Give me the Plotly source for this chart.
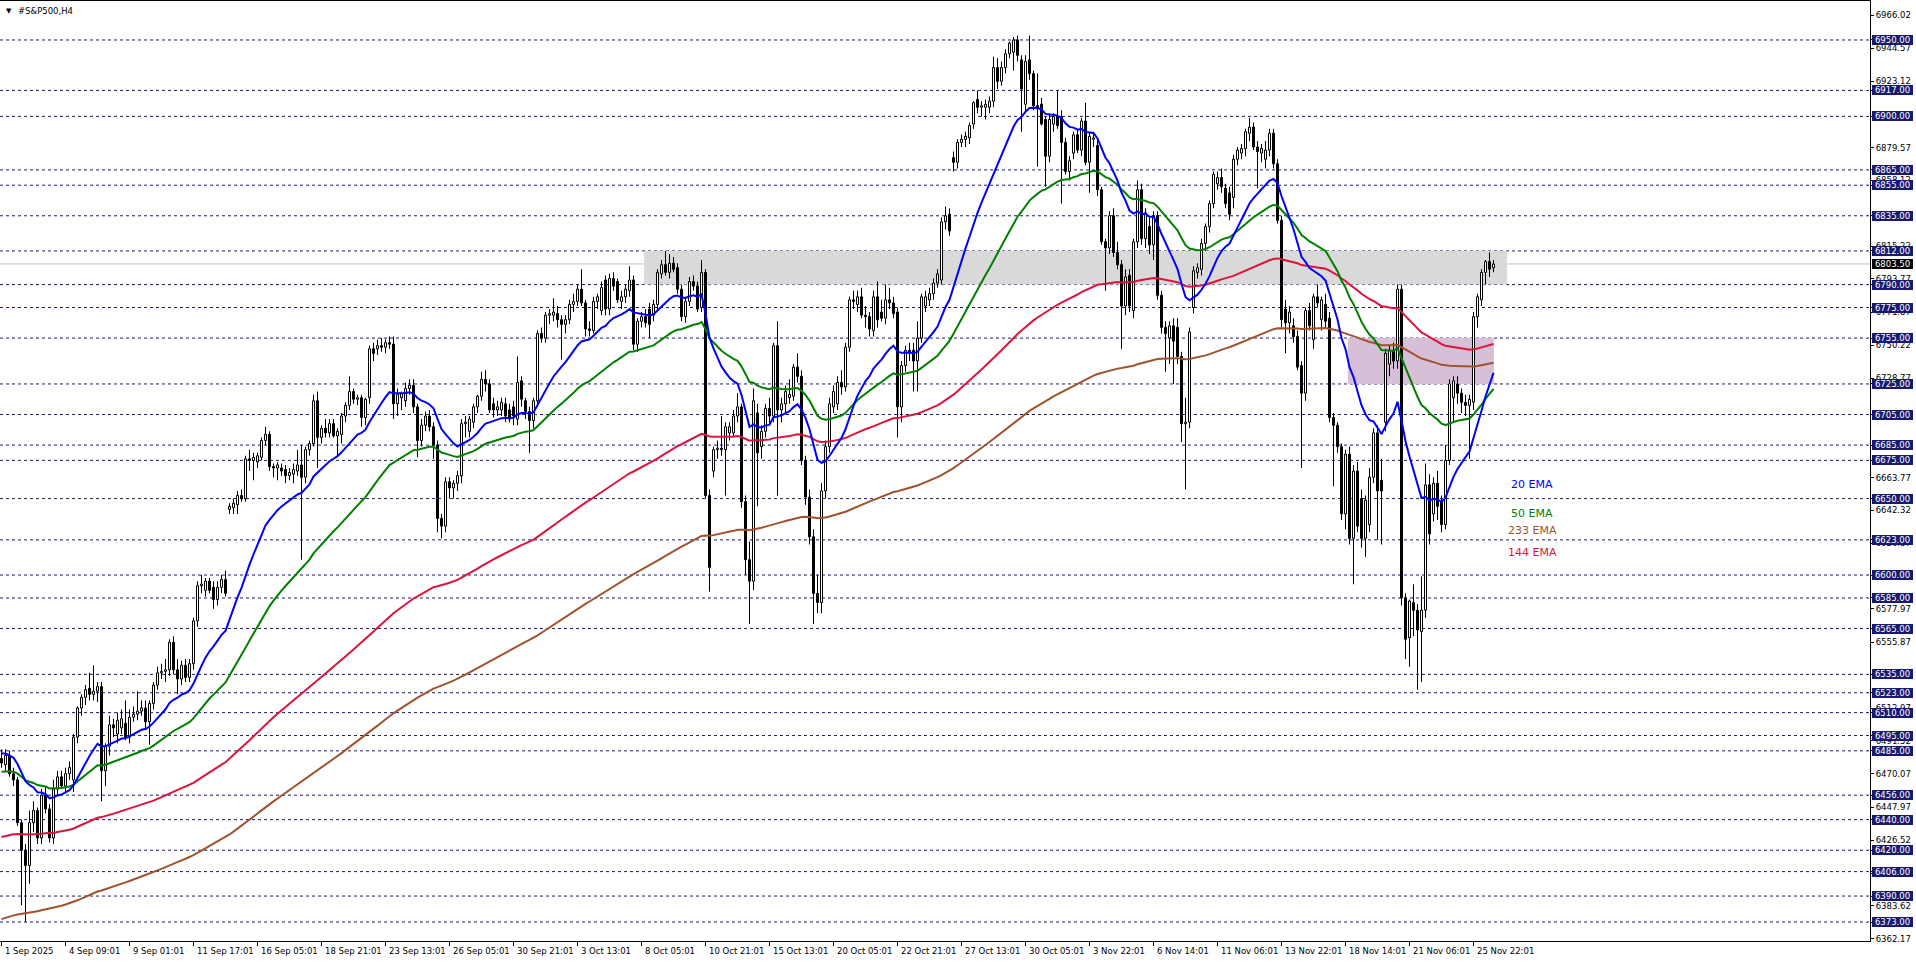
import plotly.graph_objects as go

# ---- H4 bars, 1 Sep 2025 -> 26 Nov 2025 ----
opens = [
    6480, 6476, 6482, 6470, 6466, 6438, 6420, 6410, 6438, 6446,
    6428, 6456, 6447, 6428, 6460, 6468, 6462, 6470, 6466, 6494,
    6513, 6520, 6526, 6522, 6524, 6527, 6472, 6488, 6502, 6496,
    6500, 6503, 6494, 6507, 6509, 6511, 6513, 6504, 6516, 6528,
    6536, 6537, 6538, 6556, 6538, 6532, 6541, 6533, 6542, 6570,
    6593, 6590, 6596, 6592, 6584, 6592, 6597, 6643, 6644, 6646,
    6652, 6650, 6676, 6675, 6674, 6677, 6688, 6692, 6671, 6670,
    6670, 6669, 6665, 6666, 6668, 6672, 6664, 6682, 6686, 6714,
    6690, 6696, 6693, 6699, 6691, 6692, 6704, 6711, 6720, 6715,
    6716, 6703, 6716, 6748, 6748, 6750, 6749, 6752, 6751, 6712,
    6716, 6714, 6722, 6724, 6710, 6688, 6698, 6704, 6697, 6685,
    6637, 6632, 6661, 6657, 6660, 6665, 6699, 6694, 6700, 6710,
    6717, 6728, 6725, 6712, 6708, 6708, 6712, 6708, 6710, 6702,
    6727, 6714, 6707, 6701, 6714, 6758, 6755, 6770, 6770, 6771,
    6767, 6764, 6767, 6777, 6779, 6787, 6778, 6761, 6760, 6779,
    6773, 6793, 6774, 6794, 6792, 6779, 6782, 6786, 6793, 6751,
    6766, 6769, 6774, 6770, 6777, 6797, 6803, 6798, 6804, 6801,
    6787, 6769, 6779, 6792, 6789, 6775, 6798, 6652, 6668, 6682,
    6683, 6682, 6693, 6693, 6704, 6710, 6648, 6610, 6596, 6706,
    6684, 6694, 6709, 6704, 6750, 6708, 6712, 6716, 6717, 6736,
    6730, 6675, 6651, 6625, 6588, 6582, 6655, 6684, 6710, 6712,
    6726, 6723, 6749, 6780, 6777, 6782, 6770, 6769, 6760, 6782,
    6772, 6768, 6780, 6778, 6772, 6710, 6737, 6747, 6747, 6740,
    6755, 6776, 6780, 6784, 6791, 6793, 6831, 6836, 6873, 6870,
    6883, 6885, 6886, 6895, 6911, 6906, 6906, 6906, 6910, 6932,
    6923, 6932, 6941, 6942, 6950, 6937, 6908, 6937, 6928, 6907,
    6908, 6898, 6874, 6895, 6900, 6900, 6883, 6864, 6876, 6888,
    6878, 6897, 6870, 6885, 6881, 6852, 6818, 6814, 6835, 6811,
    6803, 6776, 6796, 6773, 6818, 6852, 6820, 6828, 6816, 6835,
    6783, 6762, 6755, 6763, 6762, 6743, 6699, 6700, 6775, 6798,
    6800, 6817, 6828, 6843, 6856, 6860, 6853, 6850, 6847, 6872,
    6876, 6879, 6889, 6893, 6880, 6876, 6872, 6878, 6889, 6869,
    6832, 6774, 6765, 6763, 6756, 6737, 6719, 6773, 6754, 6782,
    6767, 6777, 6768, 6703, 6698, 6684, 6640, 6679, 6624, 6668,
    6650, 6624, 6633, 6664, 6693, 6662, 6700, 6738, 6747, 6740,
    6787, 6585, 6559, 6582, 6577, 6563, 6577, 6659, 6640, 6660,
    6648, 6633, 6675, 6716, 6725, 6719, 6713, 6711, 6713, 6769,
    6780, 6798, 6805, 6801,
]
highs = [
    6486, 6486, 6485, 6474, 6468, 6440, 6424, 6446, 6452, 6448,
    6460, 6462, 6450, 6466, 6472, 6472, 6474, 6478, 6496, 6514,
    6522, 6528, 6536, 6541, 6530, 6530, 6490, 6508, 6506, 6510,
    6512, 6518, 6512, 6514, 6524, 6518, 6518, 6518, 6530, 6540,
    6542, 6545, 6558, 6560, 6545, 6544, 6545, 6545, 6572, 6596,
    6600, 6598, 6598, 6596, 6596, 6600, 6603, 6647, 6650, 6655,
    6656, 6678, 6682, 6680, 6680, 6690, 6697, 6694, 6673, 6674,
    6673, 6672, 6670, 6673, 6682, 6685, 6684, 6688, 6718, 6720,
    6698, 6702, 6702, 6702, 6696, 6706, 6713, 6730, 6722, 6718,
    6718, 6716, 6750, 6752, 6754, 6755, 6754, 6756, 6756, 6722,
    6720, 6726, 6728, 6728, 6712, 6702, 6707, 6708, 6700, 6688,
    6640, 6664, 6664, 6662, 6668, 6702, 6704, 6704, 6712, 6718,
    6733, 6734, 6728, 6716, 6714, 6716, 6716, 6712, 6714, 6743,
    6730, 6716, 6710, 6716, 6760, 6762, 6772, 6774, 6781, 6776,
    6770, 6770, 6780, 6784, 6790, 6800, 6780, 6766, 6782, 6784,
    6792, 6796, 6797, 6798, 6794, 6786, 6790, 6802, 6796, 6768,
    6772, 6774, 6778, 6780, 6800, 6806, 6812, 6810, 6808, 6804,
    6790, 6782, 6795, 6796, 6792, 6806, 6800, 6656, 6684, 6688,
    6704, 6700, 6700, 6708, 6719, 6712, 6652, 6622, 6722, 6712,
    6698, 6712, 6716, 6752, 6766, 6716, 6724, 6728, 6738, 6745,
    6734, 6678, 6656, 6630, 6600, 6660, 6688, 6716, 6724, 6730,
    6734, 6752, 6782, 6786, 6786, 6788, 6776, 6772, 6786, 6792,
    6780, 6790, 6788, 6782, 6775, 6740, 6750, 6752, 6752, 6766,
    6784, 6786, 6788, 6794, 6800, 6834, 6841, 6840, 6877, 6885,
    6888, 6890, 6896, 6910, 6917, 6910, 6911, 6913, 6939, 6938,
    6936, 6944, 6949, 6952, 6953, 6940, 6940, 6953, 6930, 6928,
    6912, 6900, 6902, 6902, 6917, 6904, 6886, 6874, 6890, 6892,
    6899, 6909, 6890, 6890, 6885, 6854, 6820, 6838, 6840, 6818,
    6806, 6800, 6800, 6820, 6858, 6856, 6840, 6834, 6838, 6838,
    6786, 6766, 6766, 6768, 6768, 6746, 6716, 6762, 6802, 6804,
    6820, 6830, 6845, 6864, 6864, 6866, 6856, 6854, 6875, 6880,
    6882, 6892, 6899, 6896, 6884, 6882, 6884, 6892, 6892, 6872,
    6835, 6780, 6776, 6768, 6760, 6740, 6775, 6778, 6784, 6790,
    6782, 6784, 6772, 6706, 6700, 6686, 6682, 6684, 6672, 6674,
    6656, 6652, 6670, 6696, 6698, 6676, 6748, 6750, 6752, 6790,
    6790, 6588, 6584, 6594, 6581, 6599, 6673, 6666, 6664, 6668,
    6652, 6685, 6728, 6730, 6730, 6722, 6718, 6718, 6772, 6784,
    6800, 6806, 6811, 6806,
]
lows = [
    6474, 6472, 6468, 6462, 6436, 6384, 6373, 6398, 6432, 6424,
    6424, 6444, 6425, 6424, 6456, 6460, 6458, 6466, 6458, 6490,
    6508, 6515, 6518, 6518, 6517, 6452, 6462, 6482, 6494, 6490,
    6496, 6492, 6490, 6504, 6505, 6508, 6500, 6489, 6512, 6525,
    6532, 6530, 6534, 6535, 6522, 6528, 6530, 6530, 6538, 6566,
    6588, 6586, 6588, 6578, 6580, 6588, 6586, 6640, 6640, 6640,
    6648, 6648, 6668, 6662, 6670, 6675, 6685, 6668, 6664, 6662,
    6665, 6660, 6662, 6660, 6665, 6610, 6660, 6678, 6684, 6670,
    6686, 6690, 6690, 6690, 6678, 6686, 6700, 6708, 6712, 6711,
    6697, 6698, 6712, 6740, 6744, 6746, 6745, 6748, 6702, 6704,
    6708, 6710, 6718, 6706, 6677, 6684, 6694, 6694, 6676, 6628,
    6624, 6628, 6650, 6650, 6655, 6660, 6690, 6690, 6696, 6706,
    6714, 6720, 6706, 6703, 6704, 6704, 6700, 6700, 6698, 6698,
    6710, 6702, 6680, 6696, 6710, 6752, 6752, 6764, 6766, 6762,
    6741, 6758, 6764, 6772, 6776, 6776, 6756, 6756, 6758, 6774,
    6770, 6770, 6770, 6786, 6778, 6774, 6778, 6782, 6747, 6746,
    6762, 6762, 6755, 6766, 6774, 6794, 6796, 6794, 6798, 6784,
    6766, 6765, 6776, 6786, 6772, 6772, 6650, 6589, 6664, 6676,
    6678, 6652, 6688, 6690, 6700, 6644, 6600, 6568, 6590, 6645,
    6676, 6690, 6698, 6700, 6652, 6700, 6705, 6712, 6714, 6726,
    6672, 6646, 6620, 6568, 6575, 6575, 6650, 6680, 6706, 6708,
    6718, 6720, 6746, 6774, 6772, 6768, 6762, 6756, 6756, 6762,
    6766, 6764, 6774, 6768, 6690, 6700, 6733, 6740, 6720, 6720,
    6752, 6772, 6776, 6780, 6788, 6790, 6826, 6822, 6864, 6866,
    6880, 6880, 6882, 6892, 6902, 6900, 6898, 6902, 6906, 6918,
    6920, 6928, 6938, 6930, 6936, 6890, 6902, 6924, 6904, 6867,
    6894, 6854, 6870, 6890, 6892, 6843, 6862, 6858, 6872, 6876,
    6874, 6868, 6850, 6880, 6848, 6816, 6786, 6810, 6808, 6800,
    6748, 6770, 6772, 6768, 6814, 6816, 6814, 6810, 6806, 6780,
    6758, 6733, 6738, 6725, 6738, 6687, 6656, 6696, 6771, 6794,
    6796, 6812, 6824, 6840, 6852, 6850, 6840, 6832, 6840, 6868,
    6872, 6874, 6884, 6878, 6853, 6870, 6866, 6874, 6866, 6830,
    6762, 6745, 6758, 6752, 6734, 6670, 6714, 6760, 6748, 6775,
    6760, 6762, 6700, 6658, 6680, 6636, 6630, 6620, 6594, 6628,
    6618, 6612, 6628, 6660, 6623, 6620, 6694, 6730, 6735, 6735,
    6580, 6545, 6540, 6560, 6525, 6530, 6572, 6620, 6635, 6636,
    6628, 6630, 6672, 6700, 6712, 6706, 6704, 6676, 6708, 6762,
    6776, 6790, 6795, 6798,
]
closes = [
    6477, 6482, 6470, 6466, 6438, 6420, 6410, 6438, 6446, 6428,
    6456, 6447, 6428, 6460, 6468, 6462, 6470, 6474, 6494, 6513,
    6520, 6525, 6522, 6524, 6527, 6472, 6488, 6502, 6500, 6505,
    6506, 6494, 6507, 6509, 6511, 6513, 6504, 6516, 6528, 6536,
    6537, 6538, 6556, 6538, 6532, 6541, 6533, 6542, 6570, 6593,
    6594, 6596, 6590, 6584, 6592, 6597, 6588, 6645, 6647, 6652,
    6650, 6676, 6675, 6677, 6678, 6688, 6692, 6671, 6670, 6672,
    6668, 6665, 6667, 6669, 6672, 6664, 6682, 6686, 6714, 6690,
    6696, 6693, 6699, 6691, 6694, 6704, 6711, 6720, 6715, 6716,
    6703, 6715, 6748, 6745, 6750, 6749, 6752, 6751, 6712, 6718,
    6719, 6722, 6724, 6710, 6688, 6698, 6704, 6697, 6685, 6637,
    6632, 6661, 6657, 6660, 6665, 6699, 6700, 6702, 6710, 6717,
    6728, 6725, 6708, 6708, 6710, 6713, 6704, 6702, 6704, 6726,
    6715, 6707, 6701, 6714, 6758, 6755, 6770, 6771, 6772, 6767,
    6764, 6767, 6777, 6779, 6787, 6778, 6761, 6760, 6779, 6782,
    6788, 6774, 6794, 6789, 6780, 6782, 6787, 6793, 6751, 6766,
    6769, 6765, 6764, 6777, 6798, 6803, 6798, 6804, 6800, 6787,
    6769, 6779, 6792, 6789, 6774, 6798, 6652, 6605, 6682, 6683,
    6682, 6697, 6697, 6704, 6710, 6648, 6610, 6596, 6714, 6680,
    6694, 6709, 6704, 6750, 6708, 6712, 6720, 6718, 6736, 6730,
    6675, 6651, 6625, 6588, 6582, 6655, 6684, 6712, 6720, 6726,
    6723, 6749, 6780, 6779, 6782, 6770, 6769, 6761, 6782, 6767,
    6768, 6780, 6778, 6771, 6710, 6737, 6747, 6746, 6740, 6755,
    6782, 6782, 6784, 6791, 6797, 6831, 6835, 6825, 6870, 6883,
    6885, 6887, 6894, 6909, 6906, 6907, 6908, 6910, 6932, 6923,
    6932, 6941, 6948, 6950, 6940, 6918, 6936, 6928, 6907, 6905,
    6895, 6874, 6898, 6900, 6894, 6883, 6864, 6871, 6888, 6878,
    6897, 6870, 6887, 6886, 6852, 6818, 6814, 6835, 6811, 6803,
    6776, 6795, 6776, 6818, 6852, 6820, 6837, 6816, 6835, 6783,
    6762, 6758, 6763, 6753, 6743, 6699, 6700, 6759, 6799, 6801,
    6817, 6828, 6843, 6862, 6860, 6854, 6843, 6836, 6872, 6878,
    6879, 6890, 6893, 6880, 6877, 6879, 6878, 6889, 6869, 6832,
    6767, 6765, 6772, 6756, 6736, 6719, 6773, 6763, 6782, 6778,
    6780, 6766, 6703, 6698, 6684, 6640, 6679, 6624, 6668, 6632,
    6624, 6649, 6664, 6693, 6655, 6655, 6745, 6747, 6740, 6787,
    6585, 6558, 6583, 6577, 6564, 6577, 6659, 6627, 6660, 6645,
    6633, 6675, 6725, 6727, 6719, 6713, 6711, 6715, 6769, 6782,
    6798, 6805, 6800, 6803.5,
]

# EMA values just before the first visible bar (read at the left edge)
ema_periods = [233, 144, 50, 20]
ema_seeds = [6374, 6428, 6471, 6484]
ema_colors = ['#a0522d', '#dc143c', '#008000', '#0000ff']

# horizontal levels drawn on the chart
levels = [6950, 6917, 6900, 6865, 6855, 6835, 6812, 6790, 6775, 6755,
          6725, 6705, 6685, 6675, 6650, 6623, 6600, 6585, 6565, 6535,
          6523, 6510, 6495, 6485, 6456, 6440, 6420, 6406, 6390, 6373]
last_price = 6803.50

# zones
grey_zone = (160.6, 376.4, 6790, 6812)
pink_zone = (336.6, 373.1, 6725, 6755)

# price scale ticks (those fully under a level box are left out)
price_ticks = [6966.02, 6944.57, 6923.12, 6879.57, 6858.12,
               6815.22, 6793.77, 6771.87, 6750.22, 6728.77,
               6663.77, 6642.32, 6620.87, 6577.97, 6555.87,
               6512.97, 6491.52, 6470.07, 6447.97, 6426.52, 6405.07, 6383.62,
               6362.17]

# time scale labels (every 16 bars)
time_labels = ['1 Sep 2025', '4 Sep 09:01', '9 Sep 01:01', '11 Sep 17:01',
               '16 Sep 05:01', '18 Sep 21:01', '23 Sep 13:01', '26 Sep 05:01',
               '30 Sep 21:01', '3 Oct 13:01', '8 Oct 05:01', '10 Oct 21:01',
               '15 Oct 13:01', '20 Oct 05:01', '22 Oct 21:01', '27 Oct 13:01',
               '30 Oct 05:01', '3 Nov 22:01', '6 Nov 14:01', '11 Nov 06:01',
               '13 Nov 22:01', '18 Nov 14:01', '21 Nov 06:01', '25 Nov 22:01']

FONT = 'Tahoma, DejaVu Sans'
NAVY = '#191970'


def ema(values, period, seed):
    k = 2.0 / (period + 1)
    out, e = [], seed
    for v in values:
        e = e + k * (v - e)
        out.append(e)
    return out


n = len(closes)
bars = list(range(n))
hi = [max(h, o, c) for h, o, c in zip(highs, opens, closes)]
lo = [min(l, o, c) for l, o, c in zip(lows, opens, closes)]

fig = go.Figure()

# wicks
fig.add_trace(go.Bar(
    x=bars, base=lo, y=[h - l for h, l in zip(hi, lo)],
    width=0.25, marker=dict(color='black', line=dict(width=0)),
    hoverinfo='skip',
))

# bodies
fig.add_trace(go.Bar(
    x=bars,
    base=[min(o, c) for o, c in zip(opens, closes)],
    y=[max(abs(c - o), 0.5) for o, c in zip(opens, closes)],
    width=0.5,
    marker=dict(color=['white' if c >= o else 'black' for o, c in zip(opens, closes)],
                line=dict(color='black', width=1)),
    customdata=list(zip(opens, hi, lo, closes)),
    hovertemplate='O %{customdata[0]}<br>H %{customdata[1]}<br>L %{customdata[2]}<br>C %{customdata[3]}<extra></extra>',
))

# moving averages
for p, s, col in zip(ema_periods, ema_seeds, ema_colors):
    fig.add_trace(go.Scatter(
        x=bars, y=ema(closes, p, s), mode='lines',
        line=dict(color=col, width=2), name=f'{p} EMA', hoverinfo='skip',
    ))

shapes = []
for x0, x1, y0, y1, col in [grey_zone + ('#d9d9d9',), pink_zone + ('#d8bfd8',)]:
    shapes.append(dict(type='rect', xref='x', yref='y', x0=x0, x1=x1, y0=y0, y1=y1,
                       fillcolor=col, line=dict(width=0), layer='below'))
for lv in levels:
    shapes.append(dict(type='line', xref='paper', yref='y', x0=0, x1=1, y0=lv, y1=lv,
                       line=dict(color=NAVY, width=1, dash='3px,3px'), layer='below'))
shapes.append(dict(type='line', xref='paper', yref='y', x0=0, x1=1, y0=last_price, y1=last_price,
                   line=dict(color='#c0c0c0', width=1), layer='below'))

annotations = []
for lv in levels:
    annotations.append(dict(
        xref='paper', yref='y', x=1, y=lv, xanchor='left', yanchor='middle', xshift=2,
        text=f'{lv:.2f}', showarrow=False, bgcolor=NAVY, borderpad=0, borderwidth=0,
        width=41, height=10, font=dict(family=FONT, size=8.5, color='white'),
    ))
annotations.append(dict(
    xref='paper', yref='y', x=1, y=last_price, xanchor='left', yanchor='middle', xshift=2,
    text=f'{last_price:.2f}', showarrow=False, bgcolor='black', borderpad=0, borderwidth=0,
    width=41, height=10, font=dict(family=FONT, size=8.5, color='white'),
))

for i, lab in enumerate(time_labels):
    annotations.append(dict(
        xref='x', yref='paper', x=i * 16, y=0, xanchor='left', yanchor='top',
        xshift=1, yshift=-3, text=lab, showarrow=False,
        font=dict(family=FONT, size=8.5, color='black'),
    ))

annotations.append(dict(xref='paper', yref='paper', x=0, y=1, xanchor='left', yanchor='top',
                        xshift=4, yshift=-4, text='▼', showarrow=False,
                        font=dict(family=FONT, size=7, color='black')))
annotations.append(dict(xref='paper', yref='paper', x=0, y=1, xanchor='left', yanchor='top',
                        xshift=16, yshift=-3, text='#S&P500,H4', showarrow=False,
                        font=dict(family=FONT, size=8.5, color='black')))

for txt, yv, col in [('20 EMA', 6659.5, '#0000ff'), ('50 EMA', 6640, '#008000'),
                     ('233 EMA', 6629, '#a0522d'), ('144 EMA', 6614.6, '#dc143c')]:
    annotations.append(dict(xref='x', yref='y', x=382.7, y=yv, text=txt, showarrow=False,
                            xanchor='center', yanchor='middle',
                            font=dict(family=FONT, size=11, color=col)))

fig.update_layout(
    width=1916, height=963, autosize=False,
    margin=dict(l=0, r=46, t=1, b=22, pad=0),
    paper_bgcolor='white', plot_bgcolor='white',
    barmode='overlay', showlegend=False,
    shapes=shapes, annotations=annotations,
    xaxis=dict(
        range=[-0.375, 467.125], showgrid=False, zeroline=False,
        showline=True, linecolor='black', linewidth=1, mirror=True,
        tickvals=[i * 16 for i in range(len(time_labels))],
        ticks='outside', ticklen=4, tickcolor='black', showticklabels=False,
        fixedrange=True,
    ),
    yaxis=dict(
        side='right', range=[6360.6, 6975.5], showgrid=False, zeroline=False,
        showline=True, linecolor='black', linewidth=1, mirror=True,
        tickvals=price_ticks + levels,
        ticktext=[f'{v:.2f}' for v in price_ticks] + [''] * len(levels),
        ticks='outside', ticklen=3, tickcolor='black',
        tickfont=dict(family=FONT, size=8.5, color='black'),
        fixedrange=True,
    ),
    hoverlabel=dict(font=dict(family=FONT, size=10)),
)

# the page should hold the figure edge to edge, without the default body margin
fig.write_html("out.html", config={'displayModeBar': False},
               post_script="document.body.style.margin='0';document.body.style.overflow='hidden';")
